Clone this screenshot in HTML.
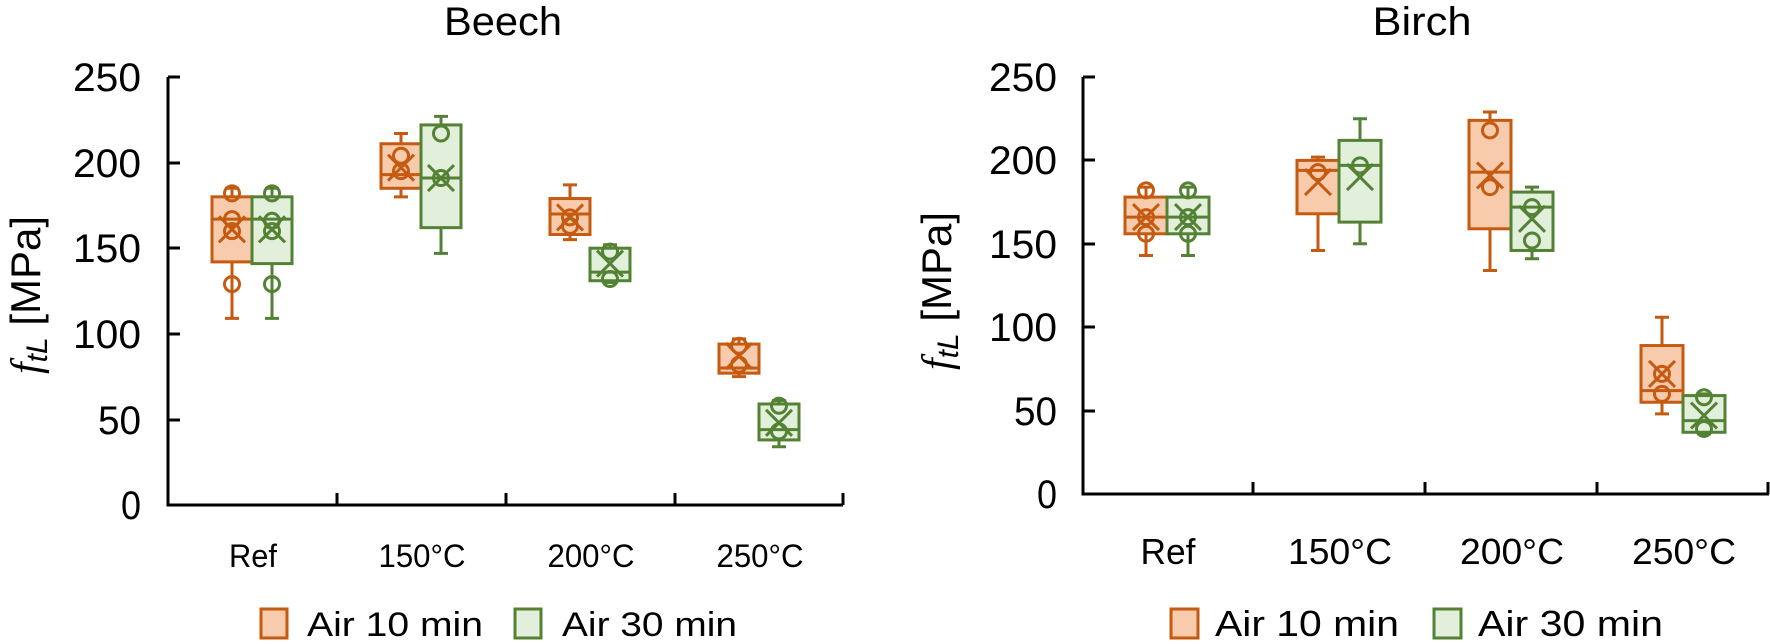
<!DOCTYPE html>
<html><head><meta charset="utf-8"><style>
html,body{margin:0;padding:0;background:#fff;}
svg{display:block;}
text{font-family:"Liberation Sans",sans-serif;fill:#000;}
</style></head><body>
<svg id="s" width="1770" height="644" viewBox="0 0 1770 644" xmlns="http://www.w3.org/2000/svg">
<text x="503" y="35" font-size="40" text-anchor="middle" textLength="118" lengthAdjust="spacingAndGlyphs">Beech</text>
<text x="1422" y="35" font-size="40" text-anchor="middle" textLength="99" lengthAdjust="spacingAndGlyphs">Birch</text>
<g stroke="#000" stroke-width="3" fill="none">
<path d="M168,77 V505 H843"/>
<path d="M168,77 h12 M168,163 h12 M168,248 h12 M168,334 h12 M168,420 h12"/>
<path d="M337,505 v-12 M506,505 v-12 M675,505 v-12 M843,505 v-12"/>
<path d="M1083,77 V494 H1769"/>
<path d="M1083,77 h12 M1083,160 h12 M1083,244 h12 M1083,327 h12 M1083,411 h12"/>
<path d="M1253,494 v-12 M1425,494 v-12 M1597,494 v-12 M1768,494 v-12"/>
</g>
<g font-size="40" text-anchor="end">
<text x="141" y="91" textLength="68" lengthAdjust="spacingAndGlyphs">250</text>
<text x="141" y="177" textLength="68" lengthAdjust="spacingAndGlyphs">200</text>
<text x="141" y="262" textLength="68" lengthAdjust="spacingAndGlyphs">150</text>
<text x="141" y="348" textLength="68" lengthAdjust="spacingAndGlyphs">100</text>
<text x="141" y="434" textLength="43" lengthAdjust="spacingAndGlyphs">50</text>
<text x="141" y="519" textLength="20" lengthAdjust="spacingAndGlyphs">0</text>
<text x="1057" y="91" textLength="68" lengthAdjust="spacingAndGlyphs">250</text>
<text x="1057" y="174" textLength="68" lengthAdjust="spacingAndGlyphs">200</text>
<text x="1057" y="258" textLength="68" lengthAdjust="spacingAndGlyphs">150</text>
<text x="1057" y="341" textLength="68" lengthAdjust="spacingAndGlyphs">100</text>
<text x="1057" y="425" textLength="43" lengthAdjust="spacingAndGlyphs">50</text>
<text x="1057" y="508" textLength="20" lengthAdjust="spacingAndGlyphs">0</text>
</g>
<text transform="translate(40,295) rotate(-90)" font-size="42" text-anchor="middle"><tspan font-style="italic" font-family="Liberation Serif">f</tspan><tspan font-style="italic" font-size="30" dy="7">tL</tspan><tspan dy="-7"> [MPa]</tspan></text>
<text transform="translate(951,291) rotate(-90)" font-size="42" text-anchor="middle"><tspan font-style="italic" font-family="Liberation Serif">f</tspan><tspan font-style="italic" font-size="30" dy="7">tL</tspan><tspan dy="-7"> [MPa]</tspan></text>
<g font-size="32" text-anchor="middle">
<text x="253" y="567" textLength="48" lengthAdjust="spacingAndGlyphs">Ref</text>
<text x="422" y="567" textLength="87" lengthAdjust="spacingAndGlyphs">150°C</text>
<text x="591" y="567" textLength="87" lengthAdjust="spacingAndGlyphs">200°C</text>
<text x="760" y="567" textLength="87" lengthAdjust="spacingAndGlyphs">250°C</text>
<text x="1168" y="564" font-size="36" textLength="55" lengthAdjust="spacingAndGlyphs">Ref</text>
<text x="1340" y="564" font-size="36" textLength="104" lengthAdjust="spacingAndGlyphs">150°C</text>
<text x="1512" y="564" font-size="36" textLength="104" lengthAdjust="spacingAndGlyphs">200°C</text>
<text x="1684" y="564" font-size="36" textLength="104" lengthAdjust="spacingAndGlyphs">250°C</text>
</g>
<rect x="261" y="609" width="26" height="29" fill="#F8CBAD" stroke="#C55A11" stroke-width="3"/>
<text x="307" y="636" font-size="34" textLength="176" lengthAdjust="spacingAndGlyphs">Air 10 min</text>
<rect x="515" y="609" width="26" height="29" fill="#E2EFDA" stroke="#548235" stroke-width="3"/>
<text x="562" y="636" font-size="34" textLength="175" lengthAdjust="spacingAndGlyphs">Air 30 min</text>
<rect x="1171" y="609" width="27" height="29" fill="#F8CBAD" stroke="#C55A11" stroke-width="3"/>
<text x="1215" y="636" font-size="36" textLength="184" lengthAdjust="spacingAndGlyphs">Air 10 min</text>
<rect x="1434" y="609" width="27" height="29" fill="#E2EFDA" stroke="#548235" stroke-width="3"/>
<text x="1478" y="636" font-size="36" textLength="185" lengthAdjust="spacingAndGlyphs">Air 30 min</text>
<g id="boxes"></g>
</svg>
<script>
(function(){
var O={s:"#C55A11",f:"#F8CBAD"},G={s:"#548235",f:"#E2EFDA"};
var L={y0:505,k:1.712,cx:[252,421,590,759],w:40};
var R={y0:494,k:1.668,cx:[1167,1339,1511,1683],w:42};
var dl=[
[0,-1,109,142,167,180,185,161,[182,167,160,129]],
[0,1,109,141,167,180,185,161,[182,166,160,129]],
[1,-1,180,185,193,211,217,197,[204,195]],
[1,1,147,162,191,222,227,191,[217,191]],
[2,-1,155,158,170,179,187,168,[168,163]],
[2,1,130,131,136,150,152,141,[148,132]],
[3,-1,75,77,80,94,97,87,[93,82]],
[3,1,34,38,44,59,61,48,[58,43]]];
var dr=[
[0,-1,143,156,166,178,184,166,[182,166,156]],
[0,1,143,156,166,178,184,166,[182,166,156]],
[1,-1,146,168,194,200,202,187,[193]],
[1,1,150,163,197,212,225,190,[197]],
[2,-1,134,159,193,224,229,191,[218,184]],
[2,1,141,146,172,181,184,165,[172,152]],
[3,-1,48,55,62,89,106,72,[72,60]],
[3,1,36,37,44,59,60,47,[58,39]]];
var out="";
function draw(ax,d){
 d.forEach(function(r){
  var c=r[1]<0?O:G, w=ax.w, x=ax.cx[r[0]]+r[1]*w/2, Y=function(v){return ax.y0-v*ax.k;};
  var st='stroke="'+c.s+'" stroke-width="3" fill="none"';
  out+='<path '+st+' d="M'+x+','+Y(r[2])+'V'+Y(r[3])+'M'+x+','+Y(r[5])+'V'+Y(r[6])+'M'+(x-7)+','+Y(r[2])+'h14M'+(x-7)+','+Y(r[6])+'h14"/>';
  out+='<rect x="'+(x-w/2)+'" y="'+Y(r[5])+'" width="'+w+'" height="'+(Y(r[3])-Y(r[5]))+'" fill="'+c.f+'" stroke="'+c.s+'" stroke-width="3"/>';
  out+='<path '+st+' d="M'+(x-w/2)+','+Y(r[4])+'h'+w+'"/>';
  r[8].forEach(function(v){out+='<circle cx="'+x+'" cy="'+Y(v)+'" r="7.5" '+st+'/>';});
  var m=Y(r[7]);
  out+='<path '+st+' d="M'+(x-13)+','+(m-13)+'L'+(x+13)+','+(m+13)+'M'+(x+13)+','+(m-13)+'L'+(x-13)+','+(m+13)+'"/>';
 });
}
draw(L,dl);draw(R,dr);
document.getElementById("boxes").innerHTML=out;
})();
</script>
</body></html>
